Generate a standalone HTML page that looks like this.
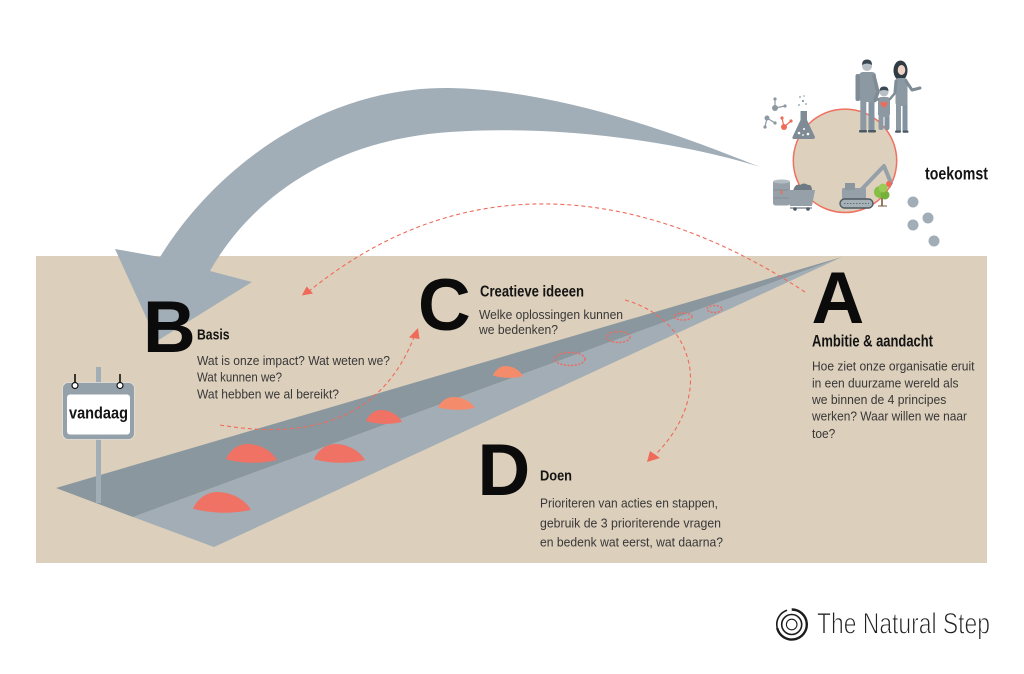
<!DOCTYPE html>
<html><head><meta charset="utf-8"><style>
html,body{margin:0;padding:0;background:#fff;}
svg{display:block;}
text{font-family:"Liberation Sans",Arial,sans-serif;}
.big{font-size:73px;font-weight:bold;fill:#0b0b0b;}
.h{font-weight:bold;fill:#141414;}
.b{font-size:12.5px;fill:#383838;}
</style></head><body>
<svg width="1024" height="674" viewBox="0 0 1024 674" xmlns="http://www.w3.org/2000/svg">
<rect width="1024" height="674" fill="#fff"/>
<rect x="36" y="256" width="951" height="307" fill="#dccfbb"/>

<!-- big curved arrow -->
<path d="M760,167 C680,135 560,90 450,88 C330,86 220,160 160,257 L115,249 L157,341 L252,282 L210,271 C250,200 330,140 450,132 C570,124 690,145 760,167 Z" fill="#a2aeb7"/>

<!-- road -->
<polygon points="56,488 842,257 133,517" fill="#8a979f"/>
<polygon points="133,517 842,257 214,547" fill="#a2adb6"/>

<!-- blobs -->
<g fill="#f07264">
<path d="M193,508.8 C195.9,501.45 204.6,492 217.4,492 C230.7,492 245.2,499.35 251,509.85 Q222,516.15 193,508.8Z"/>
<path d="M226,459.2 C228.55,452.55 236.2,444 247.4,444 C259.15,444 271.9,450.65 277,460.15 Q251.5,465.85 226,459.2Z"/>
<path d="M314,459.2 C316.55,452.55 324.2,444 335.4,444 C347.15,444 359.9,450.65 365,460.15 Q339.5,465.85 314,459.2Z"/>
<path d="M366,421.2 C367.8,416.3 373.2,410 381.1,410 C389.4,410 398.4,414.9 402,421.9 Q384,426.1 366,421.2Z"/>
</g>
<g fill="#f48c6c">
<path d="M438,407.4 C439.85,402.85 445.4,397 453.5,397 C462.05,397 471.3,401.55 475,408.05 Q456.5,411.95 438,407.4Z"/>
<path d="M493,375.6 C494.5,371.4 499,366 505.6,366 C512.5,366 520,370.2 523,376.2 Q508,379.8 493,375.6Z"/>
</g>
<g fill="none" stroke="#f06a5a" stroke-width="1.4" stroke-dasharray="2 1.6">
<ellipse cx="570" cy="359" rx="15" ry="6.5"/>
<ellipse cx="618.5" cy="337" rx="11.5" ry="5.5"/>
<ellipse cx="683" cy="316.5" rx="9" ry="3.5"/>
<ellipse cx="714.5" cy="309" rx="7.5" ry="3.5"/>
</g>

<!-- dashed arcs -->
<g fill="none" stroke="#f06a5a" stroke-width="1.1" stroke-dasharray="4 3">
<path d="M805,292 C650,190 470,160 308,292"/>
<path d="M220,425 Q370,450 414,337"/>
<path d="M625,300 C695,320 715,395 655,455"/>
</g>
<g fill="#f06a5a">
<polygon points="301.7,295.5 306.7,286.5 313,293.5"/>
<polygon points="418,328 409,337.5 419.5,339"/>
<polygon points="647,462 650,451 660,458"/>
</g>

<!-- sign vandaag -->
<rect x="96" y="367" width="5" height="136" fill="#a2aeb7"/>
<rect x="62.5" y="382.5" width="72" height="57" rx="6" fill="#95a1aa" stroke="#e9e4dc" stroke-width="0.8"/>
<rect x="67" y="394.5" width="63" height="40" rx="3" fill="#fff"/>
<g stroke="#111" stroke-width="1.6"><line x1="75" y1="374" x2="75" y2="383"/><line x1="120" y1="374" x2="120" y2="383"/></g>
<g fill="#fff" stroke="#111" stroke-width="1.2"><circle cx="75" cy="385.5" r="3"/><circle cx="120" cy="385.5" r="3"/></g>
<text x="69" y="418.5" font-size="16.5" class="h" textLength="59" lengthAdjust="spacingAndGlyphs">vandaag</text>

<!-- big letters -->
<text x="143" y="352" class="big" font-size="72">B</text>
<text x="418" y="330" class="big">C</text>
<text x="477.5" y="495" class="big" font-size="72">D</text>
<text x="811.5" y="323" class="big">A</text>

<!-- headings -->
<text x="197" y="339.3" font-size="15" class="h" textLength="32.5" lengthAdjust="spacingAndGlyphs">Basis</text>
<text x="480" y="296.5" font-size="16" class="h" textLength="104" lengthAdjust="spacingAndGlyphs">Creatieve ideeen</text>
<text x="540" y="480.6" font-size="15" class="h" textLength="32" lengthAdjust="spacingAndGlyphs">Doen</text>
<text x="812" y="346.3" font-size="16.5" class="h" textLength="121" lengthAdjust="spacingAndGlyphs">Ambitie &amp; aandacht</text>
<text x="925" y="179.3" font-size="17.5" class="h" textLength="63" lengthAdjust="spacingAndGlyphs">toekomst</text>

<!-- body texts -->
<text x="197" y="365" class="b" textLength="193" lengthAdjust="spacingAndGlyphs">Wat is onze impact? Wat weten we?</text>
<text x="197" y="381.7" class="b" textLength="85" lengthAdjust="spacingAndGlyphs">Wat kunnen we?</text>
<text x="197" y="398.3" class="b" textLength="142" lengthAdjust="spacingAndGlyphs">Wat hebben we al bereikt?</text>

<text x="479" y="319" class="b" textLength="144" lengthAdjust="spacingAndGlyphs">Welke oplossingen kunnen</text>
<text x="479" y="334" class="b" textLength="79" lengthAdjust="spacingAndGlyphs">we bedenken?</text>

<text x="540" y="507.3" class="b" textLength="178" lengthAdjust="spacingAndGlyphs">Prioriteren van acties en stappen,</text>
<text x="540" y="527.3" class="b" textLength="181" lengthAdjust="spacingAndGlyphs">gebruik de 3 prioriterende vragen</text>
<text x="540" y="546.3" class="b" textLength="183" lengthAdjust="spacingAndGlyphs">en bedenk wat eerst, wat daarna?</text>

<text x="812" y="370.7" class="b" textLength="162.5" lengthAdjust="spacingAndGlyphs">Hoe ziet onze organisatie eruit</text>
<text x="812" y="387.3" class="b" textLength="146.5" lengthAdjust="spacingAndGlyphs">in een duurzame wereld als</text>
<text x="812" y="404" class="b" textLength="134.3" lengthAdjust="spacingAndGlyphs">we binnen de 4 principes</text>
<text x="812" y="420.7" class="b" textLength="155" lengthAdjust="spacingAndGlyphs">werken? Waar willen we naar</text>
<text x="812" y="438" class="b" textLength="23.3" lengthAdjust="spacingAndGlyphs">toe?</text>

<!-- future circle -->
<circle cx="845" cy="160.8" r="51.7" fill="#ddd0bc" stroke="#f07060" stroke-width="1.5"/>

<!-- molecules -->
<g stroke="#8d99a2" stroke-width="1.2">
<line x1="775" y1="99" x2="775" y2="108"/><line x1="775" y1="108" x2="785" y2="106"/>
<line x1="767" y1="118" x2="765" y2="127"/><line x1="767" y1="118" x2="775" y2="123"/>
</g>
<g stroke="#f06a5a" stroke-width="1.2">
<line x1="782" y1="118" x2="784" y2="127"/><line x1="784" y1="127" x2="791" y2="121"/>
</g>
<g fill="#8d99a2">
<circle cx="775" cy="99" r="1.6"/><circle cx="775" cy="108" r="3"/><circle cx="785" cy="106" r="1.6"/>
<circle cx="767" cy="118" r="2.5"/><circle cx="765" cy="127" r="1.6"/><circle cx="775" cy="123" r="1.6"/>
</g>
<g fill="#f06a5a">
<circle cx="782" cy="118" r="1.6"/><circle cx="784" cy="127" r="3"/><circle cx="791" cy="121" r="1.6"/>
</g>
<!-- flask -->
<path d="M800.5,111 L807,111 L807,120 L815,137 Q815,139 813,139 L794,139 Q792,139 792.5,137 L800.5,120 Z" fill="#7f8c95"/>
<g fill="#fff"><circle cx="799" cy="133" r="1.3"/><circle cx="804" cy="129" r="1"/><circle cx="808" cy="134" r="1.3"/><circle cx="803" cy="135" r="0.9"/></g>
<g fill="#8d99a2"><circle cx="800" cy="97" r="0.9"/><circle cx="803" cy="101" r="1.1"/><circle cx="806" cy="104" r="0.9"/><circle cx="799" cy="105" r="0.9"/><circle cx="804" cy="96" r="0.8"/></g>

<!-- barrel & cart -->
<rect x="773" y="180.5" width="17" height="25" rx="2.5" fill="#95a0a8"/>
<ellipse cx="781.5" cy="181.5" rx="8.5" ry="2" fill="#b3bcc2"/>
<line x1="773" y1="190" x2="790" y2="190" stroke="#7d8992" stroke-width="0.8"/>
<line x1="773" y1="198" x2="790" y2="198" stroke="#7d8992" stroke-width="0.8"/>
<path d="M781.5,189 Q779.5,193 781.5,194.5 Q783.5,193 781.5,189Z" fill="#f06a5a"/>
<path d="M793,191 Q795,183 800,185 Q804,182 808,185 Q812,184 812,191Z" fill="#6f7b84"/>
<path d="M787,190 L815,190 L812,206 L790,206 Z" fill="#95a0a8"/>
<line x1="790" y1="208" x2="812" y2="208" stroke="#6f7b84" stroke-width="1.2"/>
<circle cx="795" cy="209" r="1.8" fill="#4d5962"/><circle cx="808" cy="209" r="1.8" fill="#4d5962"/>

<!-- excavator -->
<path d="M861,190 L884,166 L891,183" fill="none" stroke="#95a0a8" stroke-width="4" stroke-linejoin="round"/>
<path d="M887,181 L893,183 L890,188 Z" fill="#6f7b84"/>
<rect x="842" y="188" width="24" height="11" rx="1.5" fill="#95a0a8"/>
<rect x="845" y="183" width="10" height="7" fill="#8a959e"/>
<rect x="840" y="199" width="33" height="9" rx="4.5" fill="#a6b0b7" stroke="#4d5962" stroke-width="1.4"/>
<line x1="844" y1="203.5" x2="869" y2="203.5" stroke="#4d5962" stroke-width="0.8" stroke-dasharray="1.5 1.5"/>

<!-- tree -->
<line x1="882" y1="196" x2="882" y2="206" stroke="#7a5a3a" stroke-width="1.6"/>
<line x1="878" y1="206" x2="887" y2="206" stroke="#7a5a3a" stroke-width="1"/>
<circle cx="880" cy="192" r="6" fill="#86bf45"/>
<circle cx="885" cy="195" r="4.5" fill="#76b03a"/>
<circle cx="883" cy="188" r="4.5" fill="#9acb55"/>
<circle cx="889" cy="184" r="3" fill="#f06a5a"/>

<!-- people -->
<!-- man -->
<rect x="860.3" y="100" width="6" height="31" rx="2" fill="#8d99a2"/>
<rect x="868.5" y="100" width="6" height="31" rx="2" fill="#8393a0"/>
<rect x="859" y="72" width="17" height="30" rx="4" fill="#8d99a2"/>
<rect x="855.5" y="74" width="4.5" height="27" rx="2" fill="#7f8c95"/>
<path d="M874,76 L878,92 L875,100" fill="none" stroke="#7f8c95" stroke-width="3.5" stroke-linecap="round"/>
<circle cx="867" cy="66" r="5" fill="#b8bfc5"/>
<path d="M862,65 Q862,59.5 867,59.5 Q872,59.5 872,65 Q867,62 862,65Z" fill="#3b4752"/>
<rect x="859" y="130" width="8" height="2.5" rx="1" fill="#4d5962"/><rect x="868" y="130" width="8" height="2.5" rx="1" fill="#4d5962"/>
<!-- child -->
<rect x="878.5" y="115" width="5" height="15" rx="2" fill="#8d99a2"/>
<rect x="884.5" y="115" width="5" height="15" rx="2" fill="#8393a0"/>
<rect x="878" y="97" width="12" height="20" rx="3" fill="#8d99a2"/>
<line x1="878" y1="99" x2="875" y2="101" stroke="#7f8c95" stroke-width="2.5" stroke-linecap="round"/>
<line x1="890" y1="99" x2="895" y2="93" stroke="#7f8c95" stroke-width="2.5" stroke-linecap="round"/>
<path d="M884,108 L880.8,104.5 Q880,102 882.3,101.8 Q883.5,101.8 884,103 Q884.5,101.8 885.7,101.8 Q888,102 887.2,104.5Z" fill="#f06a5a"/>
<circle cx="884" cy="92" r="4.5" fill="#b8bfc5"/>
<path d="M879.5,91 Q879.5,86.5 884,86.5 Q888.5,86.5 888.5,91 Q884,89 879.5,91Z" fill="#3b4752"/>
<!-- woman -->
<ellipse cx="900.5" cy="70.5" rx="7" ry="10" fill="#2f3b45"/>
<rect x="896" y="103" width="5" height="29" rx="2" fill="#8d99a2"/>
<rect x="902.5" y="103" width="5" height="29" rx="2" fill="#8393a0"/>
<rect x="895.5" y="78" width="12" height="28" rx="3" fill="#8d99a2"/>
<path d="M906,81 L912,90 L920,88" fill="none" stroke="#7f8c95" stroke-width="3" stroke-linecap="round" stroke-linejoin="round"/>
<path d="M896,81 L895,92" fill="none" stroke="#7f8c95" stroke-width="3" stroke-linecap="round"/>
<ellipse cx="901.5" cy="70" rx="3.8" ry="5" fill="#efd3c5"/>
<rect x="895" y="130.5" width="6" height="2.2" rx="1" fill="#4d5962"/><rect x="902.5" y="130.5" width="6" height="2.2" rx="1" fill="#4d5962"/>

<!-- dots -->
<g fill="#a2aeb7">
<circle cx="913" cy="202" r="5.5"/><circle cx="928" cy="218" r="5.5"/><circle cx="913" cy="225" r="5.5"/><circle cx="934" cy="241" r="5.5"/>
</g>

<!-- logo -->
<g fill="none" stroke="#1c1c1c">
<path d="M791.7,609.5 A15,15 0 1 1 777.2,628" stroke-width="2.4"/>
<path d="M777.2,628 A15,15 0 0 1 787,610.2" stroke-width="1.6"/>
<circle cx="791.7" cy="624.5" r="10" stroke-width="1.6"/>
<circle cx="791.7" cy="624.5" r="5.3" stroke-width="1.1"/>
</g>
<text x="817" y="633.5" font-size="29.5" fill="#222" stroke="#fff" stroke-width="0.9" textLength="173" lengthAdjust="spacingAndGlyphs">The Natural Step</text>
</svg>
</body></html>
